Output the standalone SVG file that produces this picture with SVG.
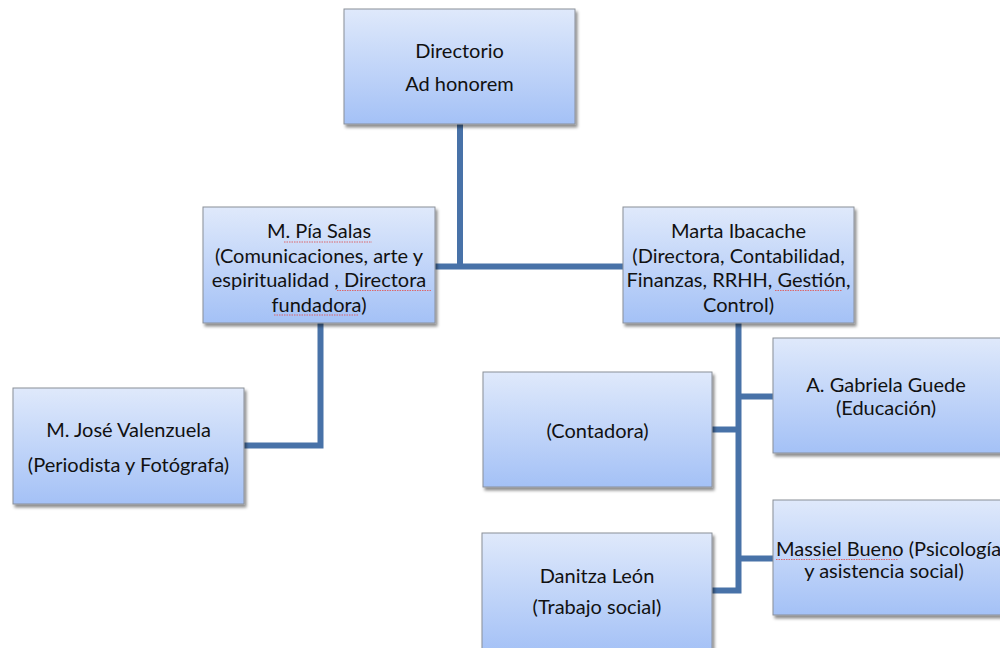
<svg xmlns="http://www.w3.org/2000/svg" width="1000" height="648" viewBox="0 0 1000 648">
<defs>
<linearGradient id="g" x1="0" y1="0" x2="0" y2="1">
<stop offset="0" stop-color="#dfe9fb"/>
<stop offset="1" stop-color="#a4c1f6"/>
</linearGradient>
<filter id="sh" x="-10%" y="-10%" width="125%" height="130%">
<feDropShadow dx="2" dy="3" stdDeviation="1.8" flood-color="#000" flood-opacity="0.45"/>
</filter>
</defs>
<style>
.box{fill:url(#g);stroke:#8a8f98;stroke-width:1;filter:url(#sh)}
.t{font-family:Lato,"Liberation Sans",sans-serif;font-size:20px;fill:#111;text-anchor:middle}
.c{fill:none;stroke:#4872a8;stroke-width:6;stroke-linejoin:miter;stroke-linecap:butt}
.sp{stroke:#e05a5a;stroke-width:0.9;stroke-dasharray:1.5 1;fill:none}
</style>
<rect width="1000" height="648" fill="#fff"/>
<g id="connectors">
<path class="c" d="M460,124 V266.5"/>
<path class="c" d="M435,266.5 H623"/>
<path class="c" d="M320.5,323 V445.5 H244"/>
<path class="c" d="M738.5,323 V590.5 H712"/>
<path class="c" d="M738.5,396.5 H773"/>
<path class="c" d="M738.5,429.5 H712"/>
<path class="c" d="M738.5,558.5 H773"/>
</g>
<g id="directorio">
<rect class="box" x="344" y="9" width="231" height="115"/>
<text class="t" x="459.5" y="58">Directorio</text>
<text class="t" x="459.5" y="90.5">Ad honorem</text>
</g>
<g id="pia-salas">
<rect class="box" x="203" y="207" width="232" height="116"/>
<text class="t" x="319" y="238">M. Pía Salas</text>
<text class="t" x="319" y="262.5">(Comunicaciones, arte y</text>
<text class="t" x="319" y="287">espiritualidad , Directora</text>
<text class="t" x="319" y="311.5">fundadora)</text>
<path class="sp" d="M284,242 H372 M337,290.5 H432 M274,315 H358"/>
</g>
<g id="marta-ibacache">
<rect class="box" x="623" y="207" width="231" height="116"/>
<text class="t" x="738.5" y="238">Marta Ibacache</text>
<text class="t" x="738.5" y="262.5">(Directora, Contabilidad,</text>
<text class="t" x="738.5" y="287">Finanzas, RRHH, Gestión,</text>
<text class="t" x="738.5" y="311.5">Control)</text>
<path class="sp" d="M775,290.5 H842"/>
</g>
<g id="jose-valenzuela">
<rect class="box" x="13" y="388" width="231" height="116"/>
<text class="t" x="128.5" y="437">M. José Valenzuela</text>
<text class="t" x="128.5" y="471.5">(Periodista y Fotógrafa)</text>
</g>
<g id="contadora">
<rect class="box" x="483" y="372" width="229" height="115"/>
<text class="t" x="597.5" y="437.5">(Contadora)</text>
</g>
<g id="gabriela-guede">
<rect class="box" x="773" y="338" width="231" height="115"/>
<text class="t" x="886" y="392">A. Gabriela Guede</text>
<text class="t" x="886" y="415">(Educación)</text>
</g>
<g id="danitza-leon">
<rect class="box" x="482" y="533" width="230" height="120"/>
<text class="t" x="597" y="583">Danitza León</text>
<text class="t" x="597" y="613.5">(Trabajo social)</text>
</g>
<g id="massiel-bueno">
<rect class="box" x="773" y="500" width="231" height="115"/>
<text class="t" x="776" y="555.5" style="text-anchor:start">Massiel Bueno (Psicología</text>
<text class="t" x="884" y="577.5">y asistencia social)</text>
<path class="sp" d="M776,559.5 H898"/>
</g>
</svg>
